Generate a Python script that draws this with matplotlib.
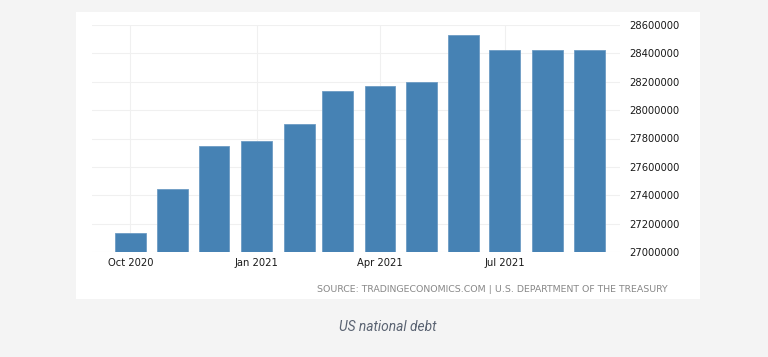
import datetime as dt
import matplotlib
matplotlib.use("Agg")
import matplotlib.pyplot as plt
import matplotlib.dates as mdates
from matplotlib.patches import Rectangle

# US national debt, USD million, first of each month
months = ["2020-10", "2020-11", "2020-12", "2021-01", "2021-02", "2021-03",
          "2021-04", "2021-05", "2021-06", "2021-07", "2021-08", "2021-09"]
debt = [27134000, 27444000, 27744000, 27780000, 27902000, 28132000,
        28170000, 28195000, 28529000, 28426000, 28426000, 28426000]
yticks = [27000000, 27200000, 27400000, 27600000, 27800000,
          28000000, 28200000, 28400000, 28600000]
xticks = ["2020-10", "2021-01", "2021-04", "2021-07"]

dates = [dt.datetime.strptime(m, "%Y-%m") for m in months]

W, H = 768, 357
fig = plt.figure(figsize=(W / 100, H / 100), dpi=100)
fig.patch.set_facecolor("#f4f4f4")

# white card behind the chart
fig.patches.append(Rectangle((76 / W, 1 - 299 / H), (700 - 76) / W, (299 - 12) / H,
                             transform=fig.transFigure, facecolor="white",
                             edgecolor="none", zorder=-5))

ax = fig.add_axes([92 / W, 1 - 252 / H, (620 - 92) / W, (252 - 25) / H])
ax.set_zorder(2)
ax.set_facecolor("none")
ax.bar(dates, debt, width=22.5, color="#4682b4", edgecolor="#6d9cc4",
       linewidth=0.6, zorder=3)

ax.set_ylim(27000000, 28600000)
ax.set_xlim(dt.datetime(2020, 9, 3), dt.datetime(2021, 9, 23))
ax.set_yticks(yticks)
ax.set_yticklabels([str(v) for v in yticks])
ax.yaxis.tick_right()
ax.set_xticks([dt.datetime.strptime(m, "%Y-%m") for m in xticks])
ax.xaxis.set_major_formatter(mdates.DateFormatter("%b %Y"))
ax.tick_params(axis="both", length=0, labelsize=7.2, colors="#1a1a1a")
ax.tick_params(axis="y", pad=7)
ax.tick_params(axis="x", pad=4)
ax.grid(True, color="#f0f0f0", linewidth=0.8, zorder=0)
for s in ax.spines.values():
    s.set_visible(False)

fig.text(668 / W, 1 - 289 / H,
         "SOURCE: TRADINGECONOMICS.COM | U.S. DEPARTMENT OF THE TREASURY",
         ha="right", va="center", fontsize=6.75, color="#888888", zorder=3)
fig.text(388 / W, 1 - 327 / H, "US national debt", ha="center", va="center",
         fontsize=9.9, style="italic", color="#5a6372", family="Roboto", zorder=3)

fig.savefig("out.png", dpi=100, facecolor=fig.get_facecolor())
